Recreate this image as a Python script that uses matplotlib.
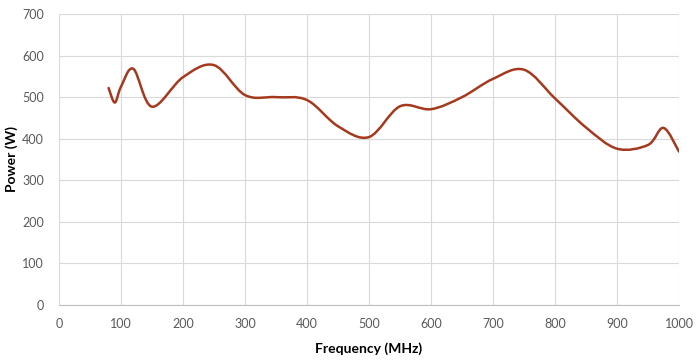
import matplotlib
matplotlib.use("Agg")
import matplotlib.pyplot as plt
from matplotlib.path import Path
from matplotlib.patches import PathPatch

# Valori
freq_mhz = [80, 90, 100, 120, 150, 200, 250, 300, 350, 400, 450, 500,
            550, 600, 650, 700, 750, 800, 850, 900, 950, 975, 1000]
power_w = [522, 487, 525, 568, 477, 548, 577, 505, 500, 493, 430, 404,
           478, 471, 500, 544, 566, 497, 427, 376, 385, 426, 369]

x_ticks = [0, 100, 200, 300, 400, 500, 600, 700, 800, 900, 1000]
y_ticks = [0, 100, 200, 300, 400, 500, 600, 700]

LINE_COLOR = "#A5391E"
GRID_COLOR = "#D9D9D9"
TEXT_COLOR = "#595959"

plt.rcParams["font.family"] = ["Lato", "DejaVu Sans"]


def smooth_path(xs, ys):
    """Linea 'smussata' stile Excel: Bezier cubiche con tangenti Catmull-Rom."""
    pts = list(zip(xs, ys))
    verts = [pts[0]]
    codes = [Path.MOVETO]
    n = len(pts)
    for i in range(n - 1):
        p0 = pts[i - 1] if i > 0 else pts[i]
        p1 = pts[i]
        p2 = pts[i + 1]
        p3 = pts[i + 2] if i + 2 < n else pts[i + 1]
        c1 = (p1[0] + (p2[0] - p0[0]) / 6, p1[1] + (p2[1] - p0[1]) / 6)
        c2 = (p2[0] - (p3[0] - p1[0]) / 6, p2[1] - (p3[1] - p1[1]) / 6)
        verts += [c1, c2, p2]
        codes += [Path.CURVE4] * 3
    return Path(verts, codes)


fig = plt.figure(figsize=(6.98, 3.63), dpi=100)
ax = fig.add_axes([59 / 698, 58 / 363, 620 / 698, 291 / 363])

ax.set_xlim(0, 1000)
ax.set_ylim(0, 700)
ax.set_xticks(x_ticks)
ax.set_yticks(y_ticks)

ax.grid(True, color=GRID_COLOR, linewidth=0.8)
ax.set_axisbelow(True)
for side in ("top", "right", "left"):
    ax.spines[side].set_visible(False)
ax.spines["bottom"].set_color("#BFBFBF")
ax.spines["bottom"].set_linewidth(0.8)

ax.tick_params(length=0, labelsize=9, colors=TEXT_COLOR, pad=9)
ax.tick_params(axis="y", pad=11)

patch = PathPatch(smooth_path(freq_mhz, power_w), facecolor="none",
                  edgecolor=LINE_COLOR, linewidth=1.8, capstyle="round",
                  joinstyle="round")
ax.add_patch(patch)

ax.set_xlabel("Frequency (MHz)", fontsize=10, fontweight="bold",
              color="black")
ax.set_ylabel("Power (W)", fontsize=10, fontweight="bold",
              color="black")
ax.xaxis.set_label_coords(0.5, -0.127)
ax.yaxis.set_label_coords(-0.066, 0.5)

fig.savefig("out.png", dpi=100)
